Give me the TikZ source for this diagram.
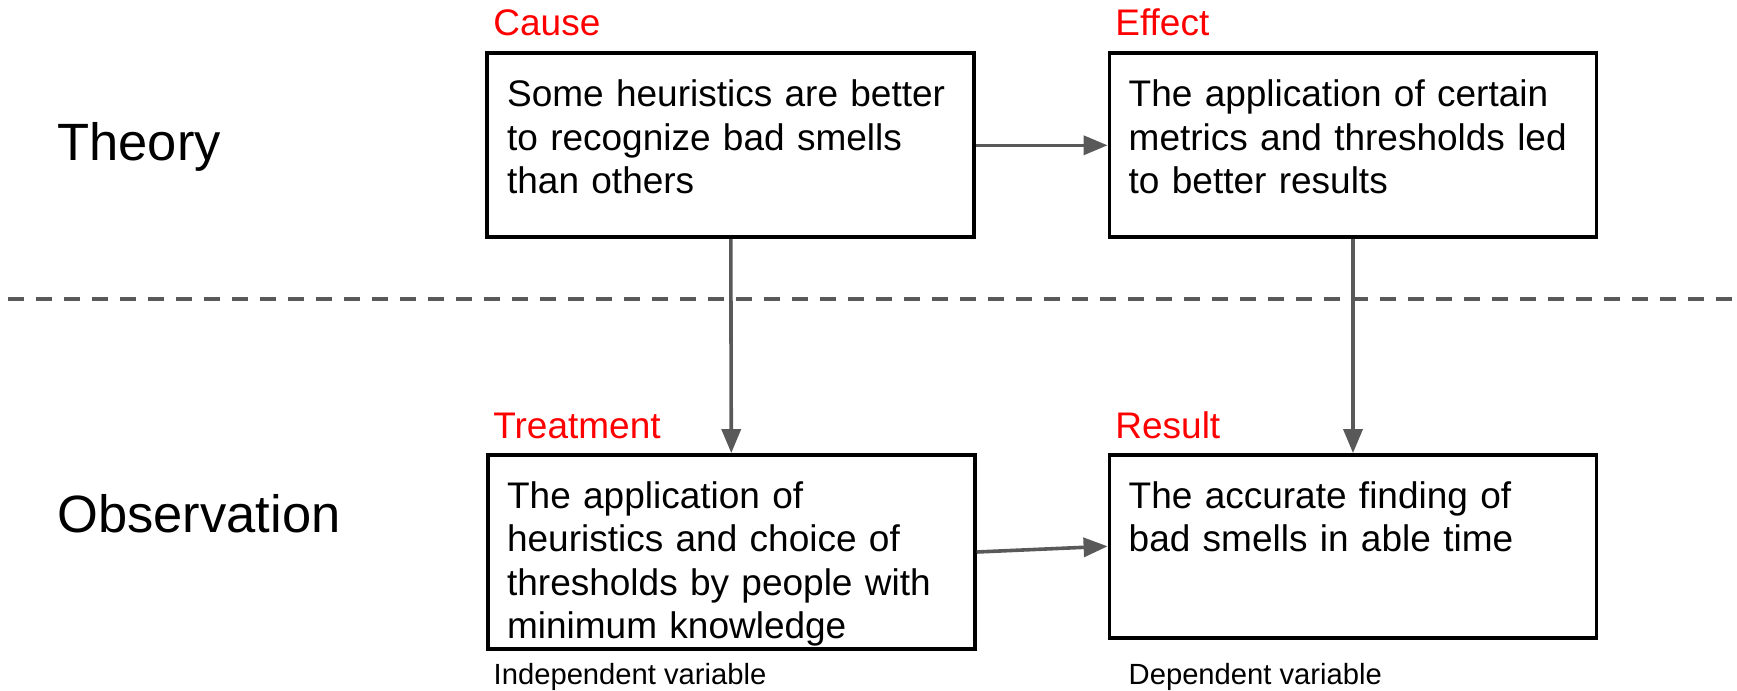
\documentclass[tikz,border=0pt]{standalone}
\usepackage{fontspec}
\setmainfont{Liberation Sans}
\usetikzlibrary{arrows.meta,positioning}
\definecolor{LinkGray}{HTML}{595959}
\definecolor{TagRed}{HTML}{FF0000}

\begin{document}
\begin{tikzpicture}[
    x=0.5pt, y=-0.5pt,
    box/.style={
      draw=black,
      line width=1.9pt,
      minimum width=243.5pt,
      minimum height=#1,
      inner sep=0pt
    },
    boxtext/.style={
      anchor=base west,
      inner sep=0pt,
      text width=232pt,
      align=left,
      font=\fontsize{18.5}{21.7}\selectfont
    },
    tag/.style={
      anchor=base west,
      inner sep=0pt,
      text=TagRed,
      font=\fontsize{18.5}{22}\selectfont
    },
    rowname/.style={
      anchor=base west,
      inner sep=0pt,
      font=\fontsize{26.25}{31}\selectfont
    },
    note/.style={
      anchor=base west,
      inner sep=0pt,
      font=\fontsize{14.6}{17}\selectfont
    },
    arrow/.style={
      -{Triangle[length=12pt,width=9.5pt]},
      line width=1.8pt,
      color=LinkGray
    }
  ]
  \useasboundingbox (0,0) rectangle (1737,691);

  % Row names
  \node[rowname] (theory) at (57,160) {Theory};
  \node[rowname] (observ) at (57,532) {Observation};

  % Separator
  \draw[dash pattern=on 8pt off 6pt, line width=2.2pt, color=LinkGray] (8,299) -- (1733,299);

  % Theory row
  \node[tag] (causetag) at (493,35) {Cause};
  \node[box=92pt] (cause) at (730.8,145.3) {};
  \node[boxtext] (causetext) at (506.7,106.7)
    {Some heuristics are better\\to recognize bad smells\\than others};

  \node[tag] (effecttag) at (1115,35) {Effect};
  \node[box=92pt] (effect) at (1353,145.3) {};
  \node[boxtext] (effecttext) at (1128.3,106.7)
    {The application of certain\\metrics and thresholds led\\to better results};

  % Observation row
  \node[tag] (treattag) at (493,438) {Treatment};
  \node[box=97pt] (treat) at (731.3,552) {};
  \node[boxtext] (treattext) at (506.7,508.3)
    {The application of\\heuristics and choice of\\thresholds by people with\\minimum knowledge};
  \node[note] (indep) at (493.3,684) {Independent variable};

  \node[tag] (resulttag) at (1115,438) {Result};
  \node[box=91.3pt] (result) at (1353,546.3) {};
  \node[boxtext] (resulttext) at (1128.3,508.3)
    {The accurate finding of\\bad smells in able time};
  \node[note] (dep) at (1128.3,684) {Dependent variable};

  \draw[arrow] (cause.east) -- (effect.west);
  \draw[arrow] (cause.south) -- (treat.north);
  \draw[arrow] (effect.south) -- (result.north);
  \draw[arrow] (treat.east) -- (result.west);

\end{tikzpicture}
\end{document}
